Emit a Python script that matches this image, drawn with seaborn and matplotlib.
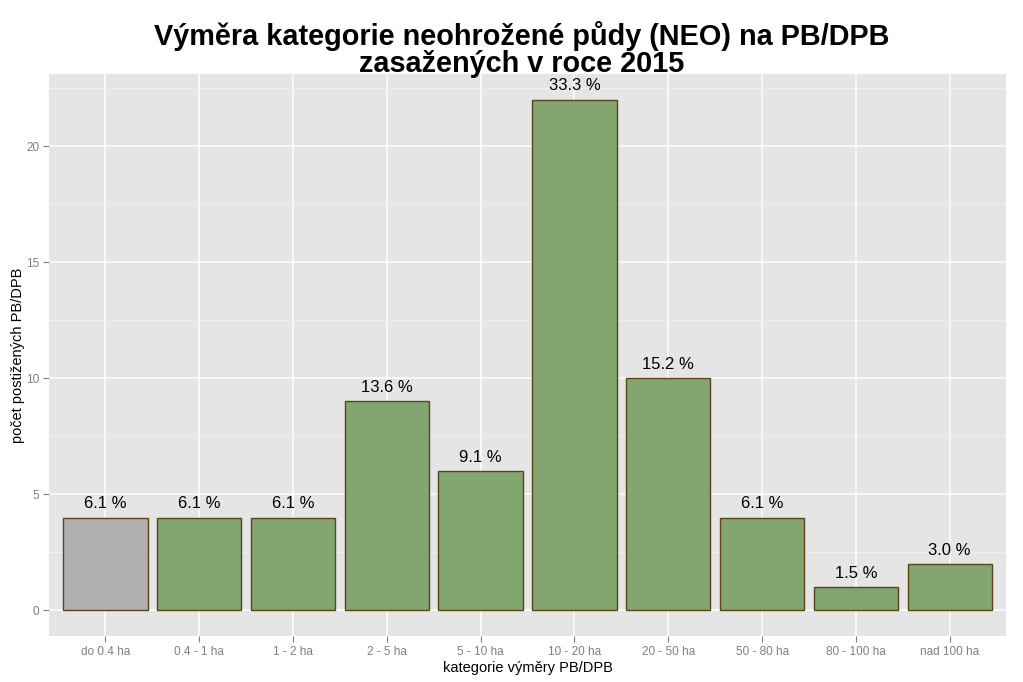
import matplotlib
matplotlib.use("Agg")
import matplotlib.pyplot as plt
import seaborn as sns
import pandas as pd
from matplotlib.ticker import MultipleLocator

categories = ["do 0.4 ha", "0.4 - 1 ha", "1 - 2 ha", "2 - 5 ha", "5 - 10 ha",
              "10 - 20 ha", "20 - 50 ha", "50 - 80 ha", "80 - 100 ha", "nad 100 ha"]
counts = [4, 4, 4, 9, 6, 22, 10, 4, 1, 2]
pct_labels = ["6.1 %", "6.1 %", "6.1 %", "13.6 %", "9.1 %", "33.3 %", "15.2 %",
              "6.1 %", "1.5 %", "3.0 %"]
groups = ["small", "other", "other", "other", "other", "other", "other", "other", "other", "other"]
title_lines = ["Výměra kategorie neohrožené půdy (NEO) na PB/DPB", "zasažených v roce 2015"]

sns.set_theme(style="darkgrid")
plt.rcParams['font.family'] = ['Liberation Sans', 'DejaVu Sans']

df = pd.DataFrame({"kat": categories, "n": counts, "g": groups})

fig = plt.figure(figsize=(10.23, 6.82), dpi=100)
ax = fig.add_axes([0.0479, 0.0674, 0.9355, 0.8240])
ax.set_facecolor("#E5E5E5")

sns.barplot(data=df, x="kat", y="n", hue="g", order=categories,
            palette={"small": "#B0B0B0", "other": "#83A570"}, saturation=1,
            edgecolor="#5C4416", linewidth=1.0, width=0.9, dodge=False,
            legend=False, ax=ax, zorder=3)

for i, (c, lab) in enumerate(zip(counts, pct_labels)):
    ax.annotate(lab, xy=(i, c), xytext=(0, 4.5), textcoords="offset points",
                ha="center", va="bottom", fontsize=12, color="black", zorder=4)

ax.set_xlim(-0.6, 9.6)
ax.set_ylim(-1.1, 23.1)
ax.yaxis.set_major_locator(MultipleLocator(5))
ax.yaxis.set_minor_locator(MultipleLocator(2.5))
ax.grid(which="major", color="white", linewidth=1.1, zorder=0)
ax.grid(which="minor", axis="y", color="#F2F2F2", linewidth=0.6, zorder=0)
ax.set_axisbelow(True)
for s in ax.spines.values():
    s.set_visible(False)

ax.tick_params(axis="both", which="major", length=4, width=0.8, color="#7F7F7F",
               labelcolor="#7F7F7F", labelsize=8.5, bottom=True, left=True, pad=3)
ax.tick_params(axis="both", which="minor", length=0)

ax.set_xlabel("kategorie výměry PB/DPB", fontsize=10.5, color="black", labelpad=2)
ax.set_ylabel("počet postižených PB/DPB", fontsize=10.5, color="black", labelpad=1)

fig.text(522 / 1023, 1 - 45 / 682, title_lines[0], ha="center", va="baseline",
         fontsize=20.75, fontweight="bold", color="black")
fig.text(522 / 1023, 1 - 71.5 / 682, title_lines[1], ha="center", va="baseline",
         fontsize=20.75, fontweight="bold", color="black")

fig.savefig("out.png", dpi=100, facecolor="white")
